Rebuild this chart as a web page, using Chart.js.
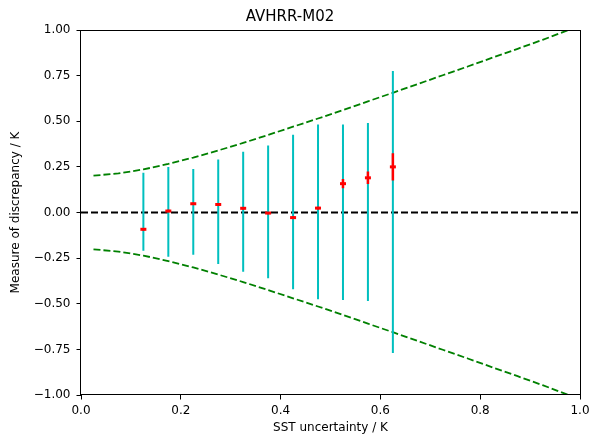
<!DOCTYPE html>
<html>
<head>
<meta charset="utf-8">
<script src="https://cdn.jsdelivr.net/npm/chart.js@4/dist/chart.umd.min.js"></script>
<style>
  html, body { margin: 0; padding: 0; background: #ffffff; }
  #chart { display: block; }
</style>
</head>
<body>
<canvas id="chart" width="589" height="436"></canvas>
<script>
// Uncertainty grid on which the expected-discrepancy envelope is drawn (K)
const envelopeX = [0.025, 0.075, 0.125, 0.175, 0.225, 0.275, 0.325, 0.375, 0.425, 0.475,
                   0.525, 0.575, 0.625, 0.675, 0.725, 0.775, 0.825, 0.875, 0.925, 0.975];
const envelopeUpper = [0.202, 0.214, 0.236, 0.266, 0.301, 0.340, 0.381, 0.425, 0.470, 0.515,
                       0.561, 0.609, 0.656, 0.704, 0.752, 0.800, 0.849, 0.897, 0.946, 0.998];
const envelopeLower = [-0.202, -0.214, -0.236, -0.266, -0.301, -0.340, -0.381, -0.425, -0.470, -0.515,
                       -0.561, -0.609, -0.656, -0.704, -0.752, -0.800, -0.849, -0.897, -0.946, -0.998];

// Binned SST uncertainty centres (K)
const binCentres = [0.125, 0.175, 0.225, 0.275, 0.325, 0.375, 0.425, 0.475, 0.525, 0.575, 0.625];
// Spread of the discrepancy in each bin (K)
const spreadHigh = [0.218, 0.249, 0.238, 0.291, 0.333, 0.367, 0.426, 0.482, 0.482, 0.491, 0.775];
const spreadLow  = [-0.209, -0.243, -0.232, -0.282, -0.325, -0.360, -0.420, -0.475, -0.480, -0.485, -0.770];
// Mean discrepancy in each bin and its uncertainty (K)
const meanDiff = [-0.092, 0.008, 0.048, 0.044, 0.023, -0.003, -0.028, 0.024, 0.158, 0.190, 0.250];
const meanErr  = [0.006, 0.007, 0.006, 0.006, 0.006, 0.006, 0.007, 0.007, 0.025, 0.034, 0.075];

// Axis settings
const xTickStep = 0.2;
const yTickStep = 0.25;
const titleText = 'AVHRR-M02';
const xLabel = 'SST uncertainty / K';
const yLabel = 'Measure of discrepancy / K';

const FONT = '"DejaVu Sans", "Liberation Sans", sans-serif';

// Turn low/high pairs into vertical segments separated by gaps
function segments(xs, lows, highs) {
  const pts = [];
  xs.forEach((x, i) => {
    pts.push({x: x, y: lows[i]});
    pts.push({x: x, y: highs[i]});
    pts.push({x: x, y: null});
  });
  return pts;
}

const pair = (xs, ys) => xs.map((x, i) => ({x: x, y: ys[i]}));

// Full axes frame, like a boxed plot
const frame = {
  id: 'frame',
  afterDatasetsDraw(chart) {
    const a = chart.chartArea;
    const ctx = chart.ctx;
    ctx.save();
    ctx.strokeStyle = '#000000';
    ctx.lineWidth = 1;
    ctx.strokeRect(Math.round(a.left) - 0.5, Math.round(a.top) + 0.5,
                   Math.round(a.right - a.left) + 1, Math.round(a.bottom - a.top) - 1);
    ctx.restore();
  }
};

const lineBase = {type: 'line', pointRadius: 0, pointHoverRadius: 0, tension: 0, spanGaps: false, fill: false};

new Chart(document.getElementById('chart'), {
  type: 'scatter',
  data: {
    datasets: [
      Object.assign({}, lineBase, {
        label: 'mean', data: pair(binCentres, meanDiff), showLine: false,
        pointStyle: 'line', pointRadius: 3, pointBorderWidth: 3,
        borderColor: '#ff0000', backgroundColor: '#ff0000', borderWidth: 3, order: 0
      }),
      Object.assign({}, lineBase, {
        label: 'mean error', data: segments(binCentres,
          meanDiff.map((m, i) => m - meanErr[i]), meanDiff.map((m, i) => m + meanErr[i])),
        borderColor: '#ff0000', borderWidth: 2.5, borderCapStyle: 'butt', order: 1
      }),
      Object.assign({}, lineBase, {
        label: 'spread', data: segments(binCentres, spreadLow, spreadHigh),
        borderColor: '#00bfbf', borderWidth: 2, borderCapStyle: 'butt', order: 2
      }),
      Object.assign({}, lineBase, {
        label: 'zero', data: [{x: 0, y: 0}, {x: 1, y: 0}],
        borderColor: '#000000', borderWidth: 1.8, borderDash: [7, 3], order: 3
      }),
      Object.assign({}, lineBase, {
        label: 'upper', data: pair(envelopeX, envelopeUpper),
        borderColor: '#008000', borderWidth: 1.8, borderDash: [7, 3], order: 4
      }),
      Object.assign({}, lineBase, {
        label: 'lower', data: pair(envelopeX, envelopeLower),
        borderColor: '#008000', borderWidth: 1.8, borderDash: [7, 3], order: 4
      })
    ]
  },
  options: {
    responsive: false,
    devicePixelRatio: 1,
    animation: false,
    events: [],
    layout: {padding: {top: 0, left: 0, right: 9, bottom: 0}},
    plugins: {
      legend: {display: false},
      tooltip: {enabled: false},
      title: {
        display: true, text: titleText, color: '#000000',
        font: {family: FONT, size: 15, weight: 'normal', lineHeight: 1.2},
        padding: {top: 8, bottom: 4}
      }
    },
    scales: {
      x: {
        type: 'linear', min: 0, max: 1, offset: false,
        border: {display: false},
        grid: {display: true, drawOnChartArea: false, drawTicks: true, tickLength: 4.5, color: '#000000', lineWidth: 1},
        ticks: {
          stepSize: xTickStep, color: '#000000', padding: 4, maxRotation: 0,
          font: {family: FONT, size: 12},
          callback: v => v.toFixed(1)
        },
        title: {display: true, text: xLabel, color: '#000000', font: {family: FONT, size: 12}, padding: {top: 0, bottom: 1}},
        afterFit: s => { s.height = 41; s.paddingLeft = 0; s.paddingRight = 0; }
      },
      y: {
        type: 'linear', min: -1, max: 1,
        border: {display: false},
        grid: {display: true, drawOnChartArea: false, drawTicks: true, tickLength: 4.5, color: '#000000', lineWidth: 1},
        ticks: {
          stepSize: yTickStep, color: '#000000', padding: 6,
          font: {family: FONT, size: 12},
          callback: v => v.toFixed(2).replace('-', '\u2212')
        },
        title: {display: true, text: yLabel, color: '#000000', font: {family: FONT, size: 12}, padding: {top: 9, bottom: 0}},
        afterFit: s => { s.width = 81; s.paddingTop = 0; s.paddingBottom = 0; }
      }
    }
  },
  plugins: [frame]
});
</script>
</body>
</html>
